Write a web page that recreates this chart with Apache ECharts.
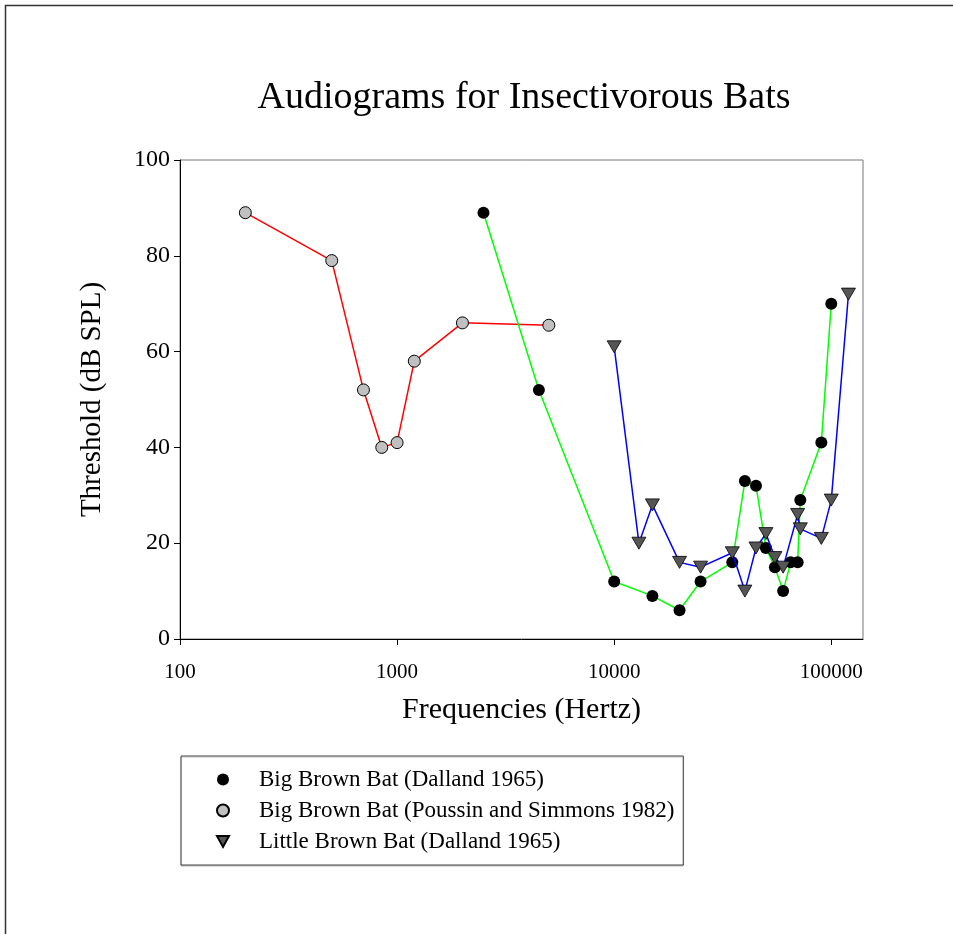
<!DOCTYPE html>
<html>
<head>
<meta charset="utf-8">
<script src="https://cdn.jsdelivr.net/npm/echarts@6/dist/echarts.min.js"></script>
<style>
  html, body { margin: 0; padding: 0; background: #fff; }
  #chart { width: 953px; height: 934px; }
</style>
</head>
<body>
<div id="chart"></div>
<script>
// Big Brown Bat (Dalland 1965)
const bigBrownDallandFreq = [2500, 4500, 10000, 15000, 20000, 25000, 35000, 40000, 45000, 50000, 55000, 60000, 65000, 70000, 72000, 90000, 100000]
const bigBrownDallandDb = [89, 52, 12, 9, 6, 12, 16, 33, 32, 19, 15, 10, 16, 16, 29, 41, 70]

// Big Brown Bat (Poussin and Simmons 1982)
const bigBrownPoussinFreq = [200, 500, 700, 850, 1000, 1200, 2000, 5000]
const bigBrownPoussinDb = [89, 79, 52, 40, 41, 58, 66, 65.5]

// Little Brown Bat (Dalland 1965)
const littleBrownFreq = [10000, 13000, 15000, 20000, 25000, 35000, 40000, 45000, 50000, 55000, 60000, 70000, 72000, 90000, 100000, 120000]
const littleBrownDb = [61, 20, 28, 16, 15, 18, 10, 19, 22, 17, 15, 26, 23, 21, 29, 72]

const xTicks = [100, 1000, 10000, 100000]

const zip = (xs, ys) => xs.map((x, i) => [x, ys[i]])

const serif = 'Liberation Serif, Times New Roman, serif'
const chart = echarts.init(document.getElementById('chart'))

const option = {
  backgroundColor: '#fff',
  animation: false,
  title: {
    text: 'Audiograms for Insectivorous Bats',
    left: 519,
    top: 74,
    textAlign: 'center',
    textStyle: { fontFamily: serif, fontSize: 38, fontWeight: 'normal', color: '#000' },
  },
  graphic: [
    {
      type: 'rect',
      shape: { x: 5.5, y: 5.5, width: 1200, height: 1200 },
      style: { fill: 'none', stroke: '#333', lineWidth: 1.5 },
      silent: true,
    },
  ],
  legend: {
    orient: 'vertical',
    left: 181,
    top: 756,
    padding: [12, 9, 12, 35],
    itemGap: 8,
    itemWidth: 12,
    itemHeight: 12,
    borderColor: '#444',
    borderWidth: 1,
    shadowColor: 'rgba(0,0,0,0.25)',
    shadowOffsetY: 1,
    shadowBlur: 1,
    backgroundColor: '#fff',
    textStyle: { fontFamily: serif, fontSize: 23, color: '#000', padding: [0, 0, 0, 25], lineHeight: 23 },
    data: [
      { name: 'Big Brown Bat (Dalland 1965)', icon: 'circle' },
      { name: 'Big Brown Bat (Poussin and Simmons 1982)', icon: 'circle' },
      { name: 'Little Brown Bat (Dalland 1965)', icon: 'path://M0,0L12,0L6,11Z' },
    ],
  },
  grid: {
    left: 180,
    top: 160,
    width: 683,
    height: 479,
    show: true,
    borderColor: '#777',
    borderWidth: 1,
    containLabel: false,
  },
  xAxis: {
    type: 'log',
    logBase: 10,
    min: 100,
    max: 140000,
    name: 'Frequencies (Hertz)',
    nameLocation: 'middle',
    nameGap: 56,
    nameTextStyle: { fontFamily: serif, fontSize: 30, color: '#000' },
    axisLine: { show: true, onZero: false, lineStyle: { color: '#000', width: 1 } },
    axisTick: { show: true, inside: false, length: 6, customValues: xTicks, lineStyle: { color: '#000' } },
    axisLabel: {
      customValues: xTicks,
      margin: 23,
      fontFamily: serif,
      fontSize: 21,
      color: '#000',
      formatter: (v) => String(Math.round(v)),
    },
    splitLine: { show: false },
  },
  yAxis: {
    type: 'value',
    min: 0,
    max: 100,
    interval: 20,
    name: 'Threshold (dB SPL)',
    nameLocation: 'middle',
    nameGap: 73,
    nameTextStyle: { fontFamily: serif, fontSize: 29, color: '#000' },
    axisLine: { show: true, lineStyle: { color: '#000', width: 1 } },
    axisTick: { show: true, inside: false, length: 6, lineStyle: { color: '#000' } },
    axisLabel: { margin: 10, fontFamily: serif, fontSize: 24, color: '#000' },
    splitLine: { show: false },
  },
  series: [
    {
      name: 'Big Brown Bat (Poussin and Simmons 1982)',
      type: 'line',
      data: zip(bigBrownPoussinFreq, bigBrownPoussinDb),
      symbol: 'circle',
      symbolSize: 12,
      lineStyle: { color: '#ff0000', width: 1.5 },
      itemStyle: { color: '#c0c0c0', borderColor: '#000', borderWidth: 1 },
      z: 2,
    },
    {
      name: 'Little Brown Bat (Dalland 1965)',
      type: 'line',
      data: zip(littleBrownFreq, littleBrownDb),
      symbol: 'triangle',
      symbolRotate: 180,
      symbolSize: [14, 12],
      lineStyle: { color: '#0000ff', width: 1.5 },
      itemStyle: { color: '#555555', borderColor: '#000', borderWidth: 0.8 },
      z: 3,
    },
    {
      name: 'Big Brown Bat (Dalland 1965)',
      type: 'line',
      data: zip(bigBrownDallandFreq, bigBrownDallandDb),
      symbol: 'circle',
      symbolSize: 12,
      lineStyle: { color: '#00ff00', width: 1.5 },
      itemStyle: { color: '#000', borderColor: '#000', borderWidth: 0 },
      z: 2,
    },
  ],
}

chart.setOption(option)
</script>
</body>
</html>
